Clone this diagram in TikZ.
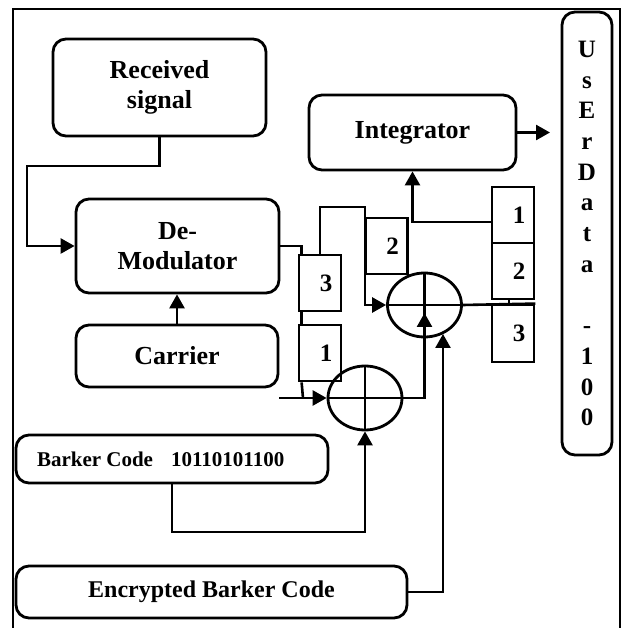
\documentclass[tikz,border=0pt]{standalone}
\usepackage{fontspec}
\setmainfont{Liberation Serif}
\usetikzlibrary{arrows.meta,shapes.geometric,calc}
\begin{document}
\begin{tikzpicture}[x=1pt,y=-1pt,
  rbox/.style={draw,line width=2.8pt,rounded corners=13pt,align=center,inner sep=0pt,font=\fontsize{26}{30}\selectfont\bfseries},
  sbox/.style={draw,line width=2.8pt,minimum width=42pt,minimum height=56pt,inner sep=0pt,font=\fontsize{25}{30}\selectfont\bfseries},
  xorc/.style={draw,ellipse,line width=2.8pt,minimum width=74pt,minimum height=64pt,inner sep=0pt},
  conn/.style={line width=2.6pt},
  arr/.style={conn,-{Triangle[length=14pt,width=15pt]}},
]
\useasboundingbox (0,0) rectangle (632,628);
\clip (0,0) rectangle (632,628);
\draw[line width=2.6pt] (13,640) |- (620,9) -- (620,640);

% main boxes
\node[rbox,minimum width=213pt,minimum height=97pt] (rs) at (159.5,87.5) {Received\\signal};
\node[rbox,minimum width=203pt,minimum height=94pt] (dem) at (177.5,246) {De-\\Modulator};
\node[rbox,minimum width=202pt,minimum height=62pt] (car) at (177,356) {Carrier};
\node[rbox,minimum width=207pt,minimum height=75pt] (int) at (412.5,132.5) {Integrator};
\node[rbox,minimum width=312pt,minimum height=48pt,font=\fontsize{21}{25}\selectfont\bfseries] (bk) at (172,459) {\makebox[270pt][l]{Barker Code\hspace{18pt}10110101100}};
\node[rbox,minimum width=391pt,minimum height=52pt,font=\fontsize{24}{28}\selectfont\bfseries] (enc) at (211.5,592) {Encrypted Barker Code};
\node[rbox,minimum width=50pt,minimum height=443pt,font=\fontsize{25}{30.7}\selectfont\bfseries] (usr) at (587,233.5) {U\\s\\E\\r\\D\\a\\t\\a\\\mbox{}\\-\\1\\0\\0};

% small boxes
\node[sbox] (b3L) at (320,283) {\hspace*{12pt}3};
\node[sbox] (b1L) at (320,353) {\hspace*{12pt}1};
\node[sbox] (b2M) at (386.5,246) {\hspace*{12pt}2};
\node[sbox] (b1R) at (513,215) {\hspace*{12pt}1};
\node[sbox] (b2R) at (513,271) {\hspace*{12pt}2};
\node[sbox,minimum height=57pt] (b3R) at (513,333.5) {\hspace*{12pt}3};

% xor circles
\node[xorc] (c1) at (365,398) {};
\node[xorc] (c2) at (424.5,305) {};
\draw[conn] (c1.north) -- (c1.south) (c1.west) -- (c1.east);
\draw[conn] (c2.north) -- (c2.south) (c2.west) -- (c2.east);

% connectors
\coordinate (in1) at (279,398);
\coordinate (out) at (550,132.5);
\draw[arr] (rs.south) |- (27,166) |- (dem.west);
\draw[arr] (car.north) -- (car.north |- dem.south);
\draw[conn] (dem.east) -| ($(b3L.north west)+(4,0)$);
\draw[conn] ($(b3L.south west)+(4,0)$) -- ($(b1L.north west)+(4,0)$);
\draw[conn] ($(b1L.south west)+(4,0)$) -- (303,398);
\draw[arr] (in1) -- (c1.west);
\draw[arr] (b3L.north) |- (365,207) -- (365,305) -- (c2.west);
\draw[arr] (c1.east) -| ($(c2.center)+(0,8)$);
\draw[arr] (bk.south) |- (365,532) -- (c1.south);
\draw[arr] (enc.east) -| (443,334);
\draw[arr] ($(b1R.west)+(0,7)$) -| (int.south);
\draw[conn] (c2.east) -- (b3R.north east);
\draw[conn] ($(b2R.south)+(-4,0)$) -- ($(b3R.north)+(-4,0)$);
\draw[arr] (int.east) -- (out);
\end{tikzpicture}
\end{document}
